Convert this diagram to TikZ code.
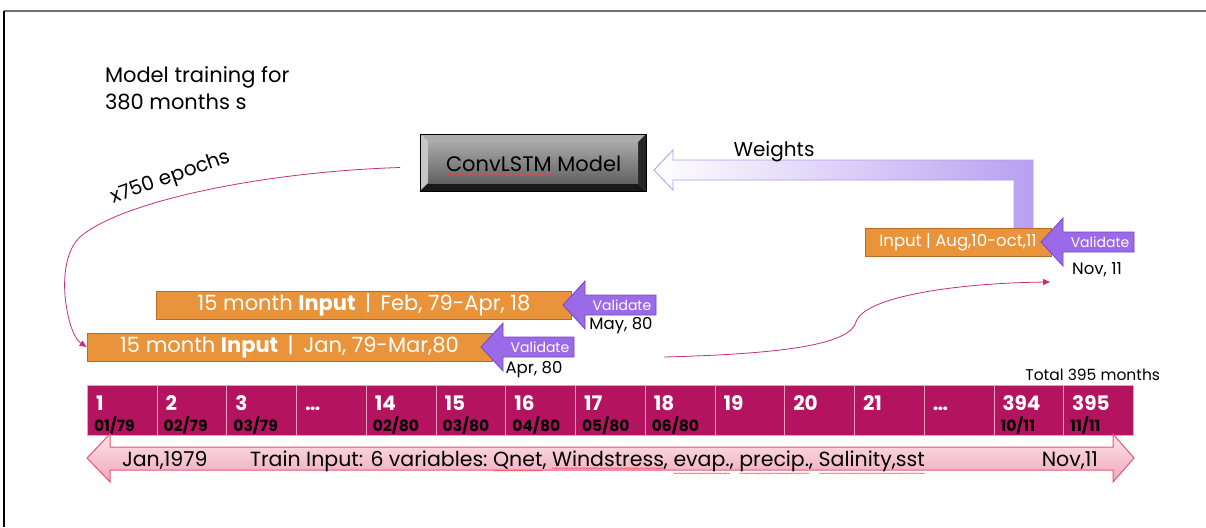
\documentclass[tikz,border=0pt]{standalone}
\usepackage{fontspec}
\setmainfont{Poppins}
\usetikzlibrary{arrows.meta,decorations.pathmorphing}

\definecolor{cellmag}{RGB}{180,19,95}
\definecolor{cellline}{RGB}{236,160,190}
\definecolor{boxorange}{RGB}{233,148,58}
\definecolor{boxorangeline}{RGB}{180,108,38}
\definecolor{valpurple}{RGB}{155,106,232}
\definecolor{valline}{RGB}{116,72,196}
\definecolor{curvemag}{RGB}{194,46,128}
\definecolor{lav}{RGB}{184,160,240}
\definecolor{lavline}{RGB}{180,152,240}
\definecolor{pinkline}{RGB}{232,84,124}
\definecolor{pinktop}{RGB}{252,228,234}
\definecolor{pinkbot}{RGB}{240,166,186}
\definecolor{framegray}{RGB}{115,115,115}
\definecolor{facetop}{RGB}{168,168,168}
\definecolor{facebot}{RGB}{98,98,98}

\newcommand\barsep{\hspace{0.45em}|\hspace{0.45em}}

\tikzset{
  fs/.style={font=\fontsize{#1}{#1}\selectfont},
  plain/.style={inner sep=0pt, outer sep=0pt},
  inbox/.style={fill=boxorange, draw=boxorangeline, line width=0.8pt, text=white,
    inner sep=0pt, minimum height=28pt},
  valshape/.style={fill=valpurple, draw=valline, line width=0.8pt},
  valtext/.style={plain, text=white, fs=14},
  cell/.style={fill=cellmag, draw=cellline, line width=0.8pt, minimum width=69.73pt,
    minimum height=50pt, inner sep=0pt},
  num/.style={plain, text=white, font=\fontsize{20}{20}\selectfont\bfseries, anchor=base west},
  date/.style={plain, text=black, font=\fontsize{15.5}{15.5}\selectfont\bfseries, anchor=base west},
  flow/.style={draw=curvemag, line width=0.8pt, -{Triangle[length=7pt,width=6pt]}},
  squiggle/.style={draw=red!75, line width=0.4pt, decorate,
    decoration={snake, amplitude=0.5pt, segment length=2.5pt}},
  span/.style={plain, fs=20.5, anchor=base west},
  validate/.pic={
    \draw[valshape] (-22pt,0pt) -- (0pt,24pt) -- (0pt,10pt) -- (71pt,10pt)
      -- (71pt,-10pt) -- (0pt,-10pt) -- (0pt,-24pt) -- cycle;
    \node[valtext] (-label) at (37pt,0pt) {Validate};
  }
}

\begin{document}
\begin{tikzpicture}[x=1pt, y=-1pt]
\useasboundingbox (0,0) rectangle (1206,527);

% page frame
\draw[framegray, line width=2.2pt] (4,11) -- (1206,11);
\draw[black, line width=1.3pt] (4,11) -- (4,527);

% heading
\node[plain, fs=21, anchor=base west] (head1) at (105,82) {Model training for};
\node[plain, fs=21, anchor=base west] (head2) at (105,109) {380 months s};

% bevelled model button
\fill[gray!65] (420,134) -- (646,134) -- (638,142) -- (428,142) -- cycle;
\fill[gray!45] (420,134) -- (428,142) -- (428,183) -- (420,191) -- cycle;
\fill[gray!30!black] (646,134) -- (646,191) -- (638,183) -- (638,142) -- cycle;
\fill[gray!20!black] (420,191) -- (646,191) -- (638,183) -- (428,183) -- cycle;
\shade[top color=facetop, bottom color=facebot] (428,142) rectangle (638,183);
\draw[black, line width=0.6pt] (420,134) rectangle (646,191);
\node[plain, minimum width=226pt, minimum height=57pt] (model) at (533,162.5) {};
\node[plain, fs=21, anchor=base west] (convword) at (446,171) {ConvLSTM};
\node[plain, fs=21, anchor=base west] (modelword) at (convword.base east) {\ Model};
\draw[squiggle] ([yshift=-3pt]convword.south west) -- ([yshift=-3pt]convword.south east);

% weights return arrow
\shade[left color=white, right color=lav, draw=lavline, line width=0.8pt]
  (654,170) -- (673,150) -- (673,160) -- (1033,160) -- (1033,228) -- (1014,228)
  -- (1014,180) -- (673,180) -- (673,190) -- cycle;
\node[plain, fs=20] (weights) at (774,152) {Weights};

% input windows
\node[inbox, minimum width=186pt, fs=16.5] (in3) at (958,242) {Input | Aug,10-oct,11};
\node[inbox, minimum width=415pt, fs=21] (in1) at (364,305)
  {15 month \textbf{Input}\barsep Feb, 79-Apr, 18};
\node[inbox, minimum width=405pt, fs=21] (in2) at (289.5,347)
  {15 month \textbf{Input}\barsep Jan, 79-Mar,80};

% validation months
\pic (v3) at (1063,242) {validate};
\pic (v1) at (585,305) {validate};
\pic (v2) at (503,347) {validate};
\node[plain, fs=16.5] (nov11) at (1097,270) {Nov, 11};
\node[plain, fs=16.5] (may80) at (621,326) {May, 80};
\node[plain, fs=16.5] (apr80) at (534,370) {Apr, 80};

% epoch loop
\draw[flow] ([xshift=-20pt, yshift=-5pt]model.west)
  .. controls (260,172) and (120,202) .. (80,237)
  .. controls (62,254) and (63,290) .. (67,310)
  .. controls (70,328) and (76,340) .. (in2.west);
\node[plain, fs=20, rotate=19.5] (epochs) at (171,178) {x750 epochs};

% sliding window
\coordinate (slidestart) at (664,357);
\coordinate (slideend) at (1050,282);
\draw[flow] (slidestart) .. controls (780,354) and (850,345) .. (856,322)
  .. controls (864,296) and (960,283) .. (slideend);

% month cells
\node[plain, fs=15.5, anchor=base east] (total) at (1160,380) {Total 395 months};
\foreach \n/\d [count=\i from 0] in {1/{01/79},2/{02/79},3/{03/79},{\dots}/{},
  14/{02/80},15/{03/80},16/{04/80},17/{05/80},18/{06/80},19/{},20/{},21/{},
  {\dots}/{},394/{10/11},395/{11/11}} {
  \node[cell, anchor=north west] (c\i) at (87+\i*69.73, 385) {};
  \node[num] (n\i) at (87+\i*69.73+9, 410) {\n};
  \node[date] (d\i) at (87+\i*69.73+7, 431) {\d};
}

% training span arrow
\shade[top color=pinktop, bottom color=pinkbot, draw=pinkline, line width=1pt]
  (87,458) -- (110,434) -- (110,447) -- (1113,447) -- (1113,434) -- (1134,458)
  -- (1113,482) -- (1113,470) -- (110,470) -- (110,482) -- cycle;
\node[span] (jan) at (122,466) {Jan,1979};
\node[span] (tr0) at (250,466) {Train Input: 6 variables:\ \mbox{}};
\node[span] (w1) at (tr0.base east) {Qnet};
\node[span] (p1) at (w1.base east) {,\ \mbox{}};
\node[span] (w2) at (p1.base east) {Windstress};
\node[span] (p2) at (w2.base east) {,\ \mbox{}};
\node[span] (w3) at (p2.base east) {evap.};
\node[span] (p3) at (w3.base east) {,\ \mbox{}};
\node[span] (w4) at (p3.base east) {precip.};
\node[span] (p4) at (w4.base east) {,\ \mbox{}};
\node[span] (w5) at (p4.base east) {Salinity,sst};
\foreach \w in {w1,w2,w3,w4,w5}
  \draw[squiggle] ([yshift=-2pt]\w.south west) -- ([yshift=-2pt]\w.south east);
\node[plain, fs=20.5, anchor=base east] (nov) at (1098,466) {Nov,11};
\end{tikzpicture}
\end{document}
